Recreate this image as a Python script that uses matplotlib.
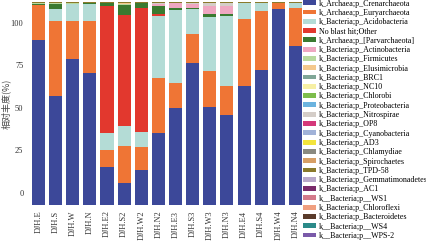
import numpy as np
import matplotlib
matplotlib.use('Agg')
import matplotlib.pyplot as plt

plt.rcParams['font.family'] = ['Liberation Serif', 'Noto Sans CJK SC']

samples = ['DJH.E', 'DJH.S', 'DJH.W', 'DJH.N', 'DJH.E2', 'DJH.S2', 'DJH.W2', 'DJH.N2',
           'DJH.E3', 'DJH.S3', 'DJH.W3', 'DJH.N3', 'DJH.E4', 'DJH.S4', 'DJH.W4', 'DJH.N4']

taxa = ['k_Archaea;p_Crenarchaeota', 'k_Archaea;p_Euryarchaeota', 'k_Bacteria;p_Acidobacteria',
        'No blast hit;Other', 'k_Archaea;p_[Parvarchaeota]', 'k_Bacteria;p_Actinobacteria',
        'k_Bacteria;p_Firmicutes', 'k_Bacteria;p_Elusimicrobia', 'k_Bacteria;p_BRC1',
        'k_Bacteria;p_NC10', 'k_Bacteria;p_Chlorobi', 'k_Bacteria;p_Proteobacteria',
        'k_Bacteria;p_Nitrospirae', 'k_Bacteria;p_OP8', 'k_Bacteria;p_Cyanobacteria',
        'k_Bacteria;p_AD3', 'k_Bacteria;p_Chlamydiae', 'k_Bacteria;p_Spirochaetes',
        'k_Bacteria;p_TPD-58', 'k_Bacteria;p_Gemmatimonadetes', 'k_Bacteria;p_AC1',
        'k__Bacteria;p__WS1', 'k_Bacteria;p_Chloroflexi', 'k_Bacteria;p_Bacteroidetes',
        'k__Bacteria;p__WS4', 'k__Bacteria;p__WPS-2']

colors = ['#3c4899', '#ef7535', '#b4dcd6', '#e2382e', '#3a7a30', '#efa7c1', '#b7d99e',
          '#f4c88c', '#7fa697', '#f6efa4', '#7dbd4c', '#6bb3df', '#d4cdc8', '#d4387a',
          '#a1b2d8', '#f3e43c', '#8a8a80', '#d79f66', '#8a7a2c', '#b9a9cb', '#7a2b6b',
          '#d47a8b', '#f09f80', '#5a3b2b', '#2b8a89', '#7a5aa9']

# main phyla (% of reads)
crenarchaeota = [81.8, 53.7, 72.4, 65.0, 18.7, 10.8, 17.2, 35.5, 47.8, 70.0, 48.3, 44.3, 58.6, 66.5, 97.0, 78.8]
euryarchaeota = [17.0, 37.4, 18.7, 26.1, 8.4, 18.2, 11.3, 27.1, 12.3, 14.3, 17.7, 14.3, 33.5, 29.6, 3.0, 18.7]
acidobacteria = [0.3, 5.9, 8.4, 8.4, 8.4, 9.9, 7.4, 31.0, 36.5, 12.8, 27.0, 35.0, 7.9, 3.9, 0.0, 2.5]
no_blast_hit = [0.0, 0.0, 0.0, 0.0, 63.0, 55.2, 61.6, 1.0, 0.0, 0.0, 0.0, 0.0, 0.0, 0.0, 0.0, 0.0]
parvarchaeota = [0.2, 2.5, 0.0, 0.5, 1.5, 4.9, 2.5, 4.0, 1.0, 0.5, 1.5, 1.0, 0.0, 0.0, 0.0, 0.0]
actinobacteria = [0.0, 0.0, 0.0, 0.0, 0.0, 0.0, 0.0, 0.6, 2.4, 2.0, 4.0, 4.0, 0.0, 0.0, 0.0, 0.0]
firmicutes = [0.4, 0.3, 0.3, 0.0, 0.0, 0.5, 0.0, 0.0, 0.0, 0.0, 0.0, 0.0, 0.0, 0.0, 0.0, 0.0]
elusimicrobia = [0.3, 0.2, 0.2, 0.0, 0.0, 0.5, 0.0, 0.4, 0.0, 0.0, 0.0, 0.0, 0.0, 0.0, 0.0, 0.0]
nitrospirae = [0.0, 0.0, 0.0, 0.0, 0.0, 0.0, 0.0, 0.4, 0.0, 0.4, 1.5, 1.4, 0.0, 0.0, 0.0, 0.0]

main = [crenarchaeota, euryarchaeota, acidobacteria, no_blast_hit, parvarchaeota,
        actinobacteria, firmicutes, elusimicrobia]

n = len(samples)
data = np.zeros((len(taxa), n))
for i, row in enumerate(main):
    data[i] = row
data[12] = nitrospirae
# remaining phyla are each below ~0.1% per sample
data[13:] = 0.02

fig = plt.figure(figsize=(4.27, 2.42), dpi=100)
ax = fig.add_axes([0.068, 0.153, 0.646, 0.84])

x = np.arange(n)
bottom = np.zeros(n)
handles = []
for i in range(len(taxa)):
    b = ax.bar(x, data[i], bottom=bottom, width=0.76, color=colors[i], label=taxa[i], linewidth=0)
    handles.append(b)
    bottom += data[i]

ax.set_xlim(-0.55, n - 0.45)
ax.set_ylim(0, 100.5)
ax.set_xticks(x)
ax.set_xticklabels(samples, rotation=90, fontsize=6, color='#333333')
# y labels sit offset from the bar base in the source figure
yvals = [0, 25, 50, 75, 100]
ax.set_yticks([5.9 + v * 0.842 for v in yvals])
ax.set_yticklabels([str(v) for v in yvals], fontsize=6, color='#333333')
ax.tick_params(length=0, pad=4)
for s in ax.spines.values():
    s.set_visible(False)
ax.set_ylabel('相对丰度(%)', fontsize=6.5, color='#444444', labelpad=0,
              family=['Noto Sans CJK SC', 'DejaVu Sans'])

fig.legend(handles=handles, labels=taxa, loc='upper left', bbox_to_anchor=(0.708, 1.005),
           frameon=False, fontsize=5.8, handlelength=1.55, handleheight=0.55,
           labelspacing=0.16, handletextpad=0.4, borderaxespad=0, borderpad=0.1)

fig.savefig('out.png', dpi=100)
